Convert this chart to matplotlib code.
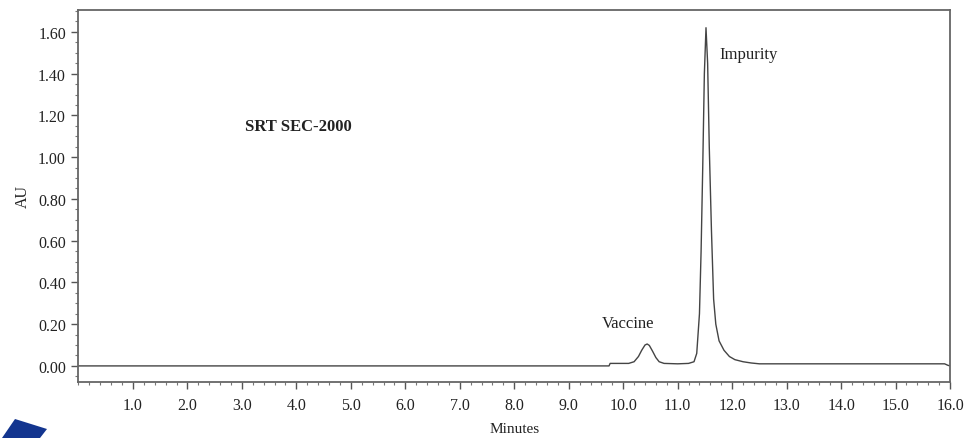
import matplotlib
matplotlib.use("Agg")
import matplotlib.pyplot as plt
from matplotlib.ticker import MultipleLocator, FormatStrFormatter
from matplotlib.patches import Polygon

# Chromatogram
time_min = [0.0, 9.74, 9.76, 10.10, 10.20, 10.28, 10.34, 10.40, 10.44, 10.48,
            10.54, 10.60, 10.66, 10.75, 11.00, 11.20, 11.30, 11.35, 11.40, 11.43,
            11.46, 11.49, 11.52, 11.55, 11.58, 11.62, 11.66, 11.70, 11.76, 11.85,
            11.95, 12.05, 12.20, 12.35, 12.50, 15.90, 15.96, 16.0]
au = [0.0, 0.0, 0.012, 0.012, 0.02, 0.045, 0.075, 0.10, 0.105, 0.098,
      0.07, 0.04, 0.02, 0.012, 0.01, 0.012, 0.02, 0.06, 0.25, 0.55,
      0.95, 1.40, 1.62, 1.45, 1.05, 0.65, 0.32, 0.20, 0.12, 0.075,
      0.045, 0.03, 0.02, 0.014, 0.01, 0.01, 0.003, 0.0]

x_ticks = [1.0, 2.0, 3.0, 4.0, 5.0, 6.0, 7.0, 8.0, 9.0, 10.0, 11.0, 12.0, 13.0, 14.0, 15.0, 16.0]
y_ticks = [0.0, 0.2, 0.4, 0.6, 0.8, 1.0, 1.2, 1.4, 1.6]

annotations = [("Vaccine", 9.60, 0.205, "normal"),
               ("Impurity", 11.77, 1.495, "normal"),
               ("SRT SEC-2000", 3.05, 1.15, "bold")]

plt.rcParams['font.family'] = ['Liberation Serif', 'DejaVu Serif']

fig = plt.figure(figsize=(9.65, 4.39), dpi=100)
ax = fig.add_axes([0.0813, 0.1276, 0.9032, 0.8474])

ax.plot(time_min, au, color='#444444', linewidth=1.0)

ax.set_xlim(0, 16.0)
ax.set_ylim(-0.077, 1.705)

ax.set_xticks(x_ticks)
ax.xaxis.set_major_formatter(FormatStrFormatter('%.1f'))
ax.xaxis.set_minor_locator(MultipleLocator(0.2))
ax.set_yticks(y_ticks)
ax.yaxis.set_major_formatter(FormatStrFormatter('%.2f'))
ax.yaxis.set_minor_locator(MultipleLocator(0.05))

ax.tick_params(axis='both', which='major', length=5, width=1.0, color='#555555',
               labelsize=11.5, labelcolor='#222222')
ax.tick_params(axis='x', which='major', pad=6)
ax.tick_params(axis='y', which='major', pad=4)
ax.tick_params(axis='both', which='minor', length=2.5, width=0.8, color='#777777')

for s in ax.spines.values():
    s.set_color('#666666')
    s.set_linewidth(1.3)

ax.set_xlabel('Minutes', fontsize=11, color='#222222', labelpad=6)
ax.set_ylabel('AU', fontsize=11.5, color='#222222', labelpad=5)

for txt, x, y, w in annotations:
    ax.text(x, y, txt, fontsize=12, fontweight=w, color='#222222',
            ha='left', va='center')

# decorative blue corner shape (figure pixel coords, top-left origin)
H = fig.get_figheight() * fig.dpi
corner = [[15, 420], [47, 430], [40, 439], [2, 439]]
poly = Polygon([[px, H - py] for px, py in corner], closed=True,
               transform=None, facecolor='#13358f', edgecolor='none')
fig.patches.append(poly)

fig.savefig('out.png', dpi=100)
